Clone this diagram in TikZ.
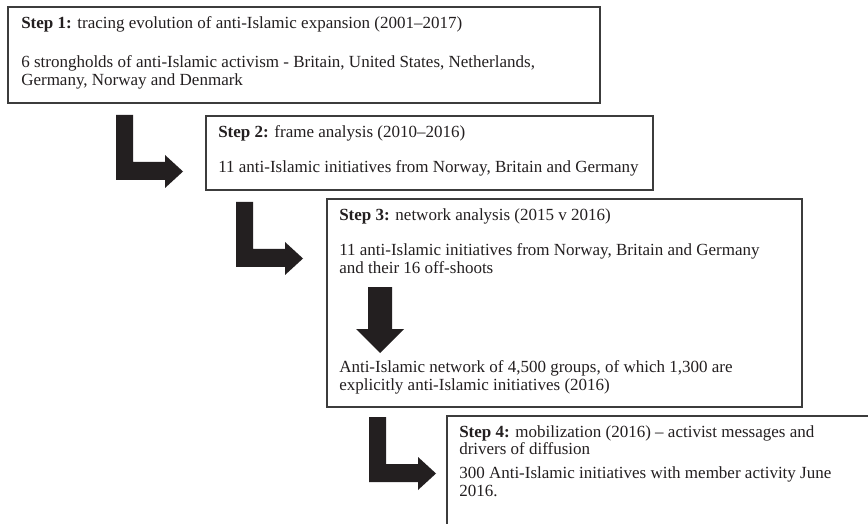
\documentclass[tikz,border=0pt]{standalone}
\usepackage{fontspec}
\setmainfont{Liberation Serif}
\usepackage{xcolor}
\usepackage{tikz}
\usetikzlibrary{positioning}
\definecolor{ink}{HTML}{231F20}
\definecolor{frame}{HTML}{3C3C3C}
\tikzset{
  stepbox/.style={draw=frame, line width=1.1pt, anchor=north west, inner sep=0pt, outer sep=0pt},
  steptxt/.style={anchor=north west, inner sep=0pt, align=left, text=ink, font=\fontsize{12.75}{13.4}\selectfont},
  bigarrow/.style={fill=ink},
}

\begin{document}
\begin{tikzpicture}[x=0.75pt, y=-0.75pt]
\useasboundingbox (0,0) rectangle (868,524);
\fill[white] (0,0) rectangle (868,524);
\clip (0,0) rectangle (868,524);
% boxes
\node[stepbox, minimum width=444pt, minimum height=72pt] (box1) at (8,7) {};
\node[stepbox, minimum width=335.25pt, minimum height=55.5pt] (box2) at (206,116) {};
\node[stepbox, minimum width=356.25pt, minimum height=156pt] (box3) at (327,199) {};
\node[stepbox, minimum width=340pt, minimum height=95pt] (box4) at (447,416) {};
% texts
\node[steptxt, below right=6.75pt and 9.75pt of box1.north west] (txt1)
  {\textbf{Step 1:} tracing evolution of anti-Islamic expansion (2001--2017)\\[16pt]
   6 strongholds of anti-Islamic activism - Britain, United States, Netherlands,\\
   Germany, Norway and Denmark};
\node[steptxt, below right=6.75pt and 9pt of box2.north west] (txt2)
  {\textbf{Step 2:} frame analysis (2010--2016)\\[13pt]
   11 anti-Islamic initiatives from Norway, Britain and Germany};
\node[steptxt, below right=6.75pt and 9pt of box3.north west] (txt3)
  {\textbf{Step 3:} network analysis (2015 v 2016)\\[13pt]
   11 anti-Islamic initiatives from Norway, Britain and Germany\\
   and their 16 off-shoots};
\node[steptxt, below right=120.9pt and 9pt of box3.north west] (txt3b)
  {Anti-Islamic network of 4,500 groups, of which 1,300 are\\
   explicitly anti-Islamic initiatives (2016)};
\node[steptxt, below right=6.75pt and 9pt of box4.north west] (txt4)
  {\textbf{Step 4:} mobilization (2016) -- activist messages and\\
   drivers of diffusion\\[4.5pt]
   300 Anti-Islamic initiatives with member activity June\\
   2016.};
% arrows
\foreach \ax/\ay in {116/115, 236/202, 369/417}
  \fill[bigarrow, shift={(\ax,\ay)}] (0,0) -- (17,0) -- (17,47) -- (49,47) -- (49,40)
    -- (67,56.5) -- (49,73) -- (49,65) -- (0,65) -- cycle;
\fill[bigarrow] (368,287) -- (392,287) -- (392,329) -- (404,329) -- (380,353)
  -- (356,329) -- (368,329) -- cycle;
\end{tikzpicture}
\end{document}
